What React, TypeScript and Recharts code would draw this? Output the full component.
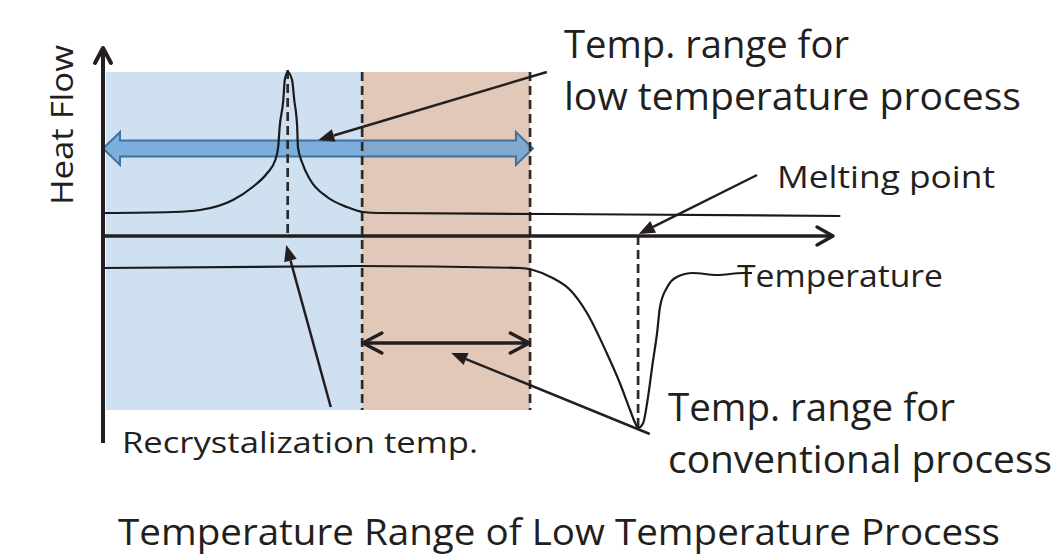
import { ComposedChart, Line, ReferenceArea, ReferenceLine, XAxis, YAxis } from "recharts";

// schematic DSC curves, temperature 0..100 along the axis, heat flow in arbitrary units
const TEMP_UPPER = [0, 9.6, 13.3, 17.8, 20.5, 22.5, 23.6, 24.0, 24.2, 24.7, 24.9, 25.3, 25.9, 26.2, 26.6, 26.7, 27.3, 28.4, 30.7, 33.4, 35.6, 37.9, 61.2, 101];
const FLOW_UPPER = [2.3, 2.4, 2.6, 3.6, 4.9, 6.3, 7.6, 8.9, 10.9, 13.6, 15.6, 16.4, 15.6, 13.6, 10.9, 8.9, 7.3, 5.6, 3.9, 2.9, 2.4, 2.3, 2.2, 2.0];

const TEMP_LOWER = [0, 34.8, 57.1, 58.9, 61.6, 64.0, 66.3, 69.0, 70.8, 72.2, 72.9, 73.3, 74.0, 74.6, 75.3, 75.9, 76.3, 77.3, 78.6, 80.8, 84.1, 87.7, 88.9];
const FLOW_LOWER = [-3.2, -3.0, -3.2, -3.4, -4.2, -5.4, -7.7, -11.7, -14.7, -17.4, -18.7, -19.2, -18.7, -16.4, -12.7, -9.7, -7.1, -5.1, -4.1, -3.7, -3.9, -3.7, -3.7];

// key temperatures
const RECRYST_T = 25.3;
const LOW_START = 0;
const LOW_END = 35.5;
const CONV_END = 58.5;
const MELT_T = 73.3;
const AREA_TOP = 16.4;
const AREA_BOTTOM = -17.4;

const upperData = TEMP_UPPER.map((t, i) => ({ t, h: FLOW_UPPER[i] }));
const lowerData = TEMP_LOWER.map((t, i) => ({ t, h: FLOW_LOWER[i] }));

const INK = "#231f20";
const FONT = "'Open Sans', sans-serif";
const DASH = { stroke: "#2b2b2b", strokeWidth: 2.7, strokeDasharray: "9 5" };

type Seg = { x1?: number; y1?: number; x2?: number; y2?: number };

function chevron(x: number, y: number, fx: number, fy: number, len: number, half: number) {
  // open arrow head at (x,y), pointing away from (fx,fy)
  const dx = x - fx;
  const dy = y - fy;
  const d = Math.hypot(dx, dy) || 1;
  const ux = dx / d;
  const uy = dy / d;
  const bx = x - ux * len;
  const by = y - uy * len;
  return `M${bx - uy * half},${by + ux * half} L${x},${y} L${bx + uy * half},${by - ux * half}`;
}

function AxisArrow(p: Seg & { width?: number; len?: number; half?: number; both?: boolean }) {
  const { x1 = 0, y1 = 0, x2 = 0, y2 = 0 } = p;
  const w = p.width ?? 3.5;
  return (
    <g fill="none" stroke={INK} strokeWidth={w} strokeLinecap="round" strokeLinejoin="round">
      <line x1={x1} y1={y1} x2={x2} y2={y2} strokeLinecap="butt" />
      <path d={chevron(x2, y2, x1, y1, p.len ?? 16, p.half ?? 9)} />
      {p.both && <path d={chevron(x1, y1, x2, y2, p.len ?? 16, p.half ?? 9)} />}
    </g>
  );
}

function PointerArrow(p: Seg) {
  const { x1 = 0, y1 = 0, x2 = 0, y2 = 0 } = p;
  const dx = x2 - x1;
  const dy = y2 - y1;
  const d = Math.hypot(dx, dy) || 1;
  const ux = dx / d;
  const uy = dy / d;
  const len = 16;
  const half = 6.5;
  const bx = x2 - ux * len;
  const by = y2 - uy * len;
  return (
    <g>
      <line x1={x1} y1={y1} x2={bx} y2={by} stroke={INK} strokeWidth={2.5} />
      <polygon
        points={`${x2},${y2} ${bx - uy * half},${by + ux * half} ${bx + uy * half},${by - ux * half}`}
        fill={INK}
      />
    </g>
  );
}

function FatArrow(p: { x?: number; y?: number; width?: number; height?: number }) {
  const x = p.x ?? 0;
  const y = p.y ?? 0;
  const w = p.width ?? 0;
  const h = p.height ?? 0;
  const cy = y + h / 2;
  const head = 17;
  const shaft = 8;
  const pts = [
    [x, cy],
    [x + head, y],
    [x + head, cy - shaft],
    [x + w - head, cy - shaft],
    [x + w - head, y],
    [x + w, cy],
    [x + w - head, y + h],
    [x + w - head, cy + shaft],
    [x + head, cy + shaft],
    [x + head, y + h],
  ]
    .map((q) => q.join(","))
    .join(" ");
  return <polygon points={pts} fill="rgba(91,155,213,0.72)" stroke="#41719c" strokeWidth={2} />;
}

export default function App() {
  return (
    <div style={{ position: "absolute", left: 0, top: 0, background: "#fff" }}>
      <ComposedChart width={1062} height={555} margin={{ top: 36, right: 156, bottom: 99, left: 103 }}>
        <XAxis type="number" dataKey="t" domain={[0, 110]} allowDataOverflow hide />
        <YAxis type="number" domain={[-22, 20]} allowDataOverflow hide />

        <ReferenceArea x1={LOW_START + 0.4} x2={LOW_END} y1={AREA_BOTTOM} y2={AREA_TOP} fill="#cfe0f1" fillOpacity={1} stroke="none" />
        <ReferenceArea x1={LOW_END} x2={CONV_END} y1={AREA_BOTTOM} y2={AREA_TOP} fill="#e1c8b8" fillOpacity={1} stroke="none" />

        {/* dashed guides */}
        {[LOW_END, CONV_END].map((t) => (
          <ReferenceLine key={t} segment={[{ x: t, y: AREA_TOP }, { x: t, y: AREA_BOTTOM }]} {...DASH} />
        ))}
        <ReferenceLine segment={[{ x: RECRYST_T, y: 16.6 }, { x: RECRYST_T, y: 0 }]} {...DASH} />
        <ReferenceLine segment={[{ x: MELT_T, y: 0 }, { x: MELT_T, y: -19.4 }]} {...DASH} />

        <Line data={upperData} dataKey="h" type="monotone" stroke="#1a1a1a" strokeWidth={2.2} dot={false} isAnimationActive={false} />
        <Line data={lowerData} dataKey="h" type="monotone" stroke="#1a1a1a" strokeWidth={2.2} dot={false} isAnimationActive={false} />

        {/* axes drawn as arrows */}
        <ReferenceLine segment={[{ x: 0, y: -20.7 }, { x: 0, y: 18.8 }]} shape={(p: Seg) => <AxisArrow {...p} width={4} len={15} half={8} />} />
        <ReferenceLine segment={[{ x: 0, y: 0 }, { x: 100, y: 0 }]} shape={(p: Seg) => <AxisArrow {...p} width={3.5} len={16} half={9} />} />

        {/* conventional range */}
        <ReferenceLine segment={[{ x: 35.6, y: -10.7 }, { x: 58.4, y: -10.7 }]} shape={(p: Seg) => <AxisArrow {...p} width={3.5} len={19} half={10} both />} />

        {/* low temperature range */}
        <ReferenceArea x1={0} x2={58.9} y1={7.1} y2={10.4} shape={(p: any) => <FatArrow {...p} />} />

        {/* pointers */}
        <ReferenceLine segment={[{ x: 60.8, y: 16.4 }, { x: 29.5, y: 9.6 }]} shape={(p: Seg) => <PointerArrow {...p} />} />
        <ReferenceLine segment={[{ x: 89.6, y: 6.1 }, { x: 73.4, y: 0.2 }]} shape={(p: Seg) => <PointerArrow {...p} />} />
        <ReferenceLine segment={[{ x: 31.2, y: -17.1 }, { x: 25.1, y: -0.9 }]} shape={(p: Seg) => <PointerArrow {...p} />} />
        <ReferenceLine segment={[{ x: 74.9, y: -19.8 }, { x: 47.7, y: -11.7 }]} shape={(p: Seg) => <PointerArrow {...p} />} />

        <g fontFamily={FONT} fill={INK}>
          <text x={73} y={125} fontSize={31} textAnchor="middle" transform="rotate(-90 73 125)" textLength={160} lengthAdjust="spacingAndGlyphs">
            Heat Flow
          </text>
          <text x={564} y={58} fontSize={38} textLength={285} lengthAdjust="spacingAndGlyphs">Temp. range for</text>
          <text x={564} y={110} fontSize={38} textLength={457} lengthAdjust="spacingAndGlyphs">low temperature process</text>
          <text x={777} y={188} fontSize={31} textLength={218} lengthAdjust="spacingAndGlyphs">Melting point</text>
          <text x={737} y={287} fontSize={31} textLength={206} lengthAdjust="spacingAndGlyphs">Temperature</text>
          <text x={122} y={453} fontSize={29} textLength={356} lengthAdjust="spacingAndGlyphs">Recrystalization temp.</text>
          <text x={668} y={421} fontSize={38} textLength={287} lengthAdjust="spacingAndGlyphs">Temp. range for</text>
          <text x={668} y={473} fontSize={38} textLength={384} lengthAdjust="spacingAndGlyphs">conventional process</text>
          <text x={118} y={545} fontSize={36} textLength={882} lengthAdjust="spacingAndGlyphs">Temperature Range of Low Temperature Process</text>
        </g>
      </ComposedChart>
    </div>
  );
}
